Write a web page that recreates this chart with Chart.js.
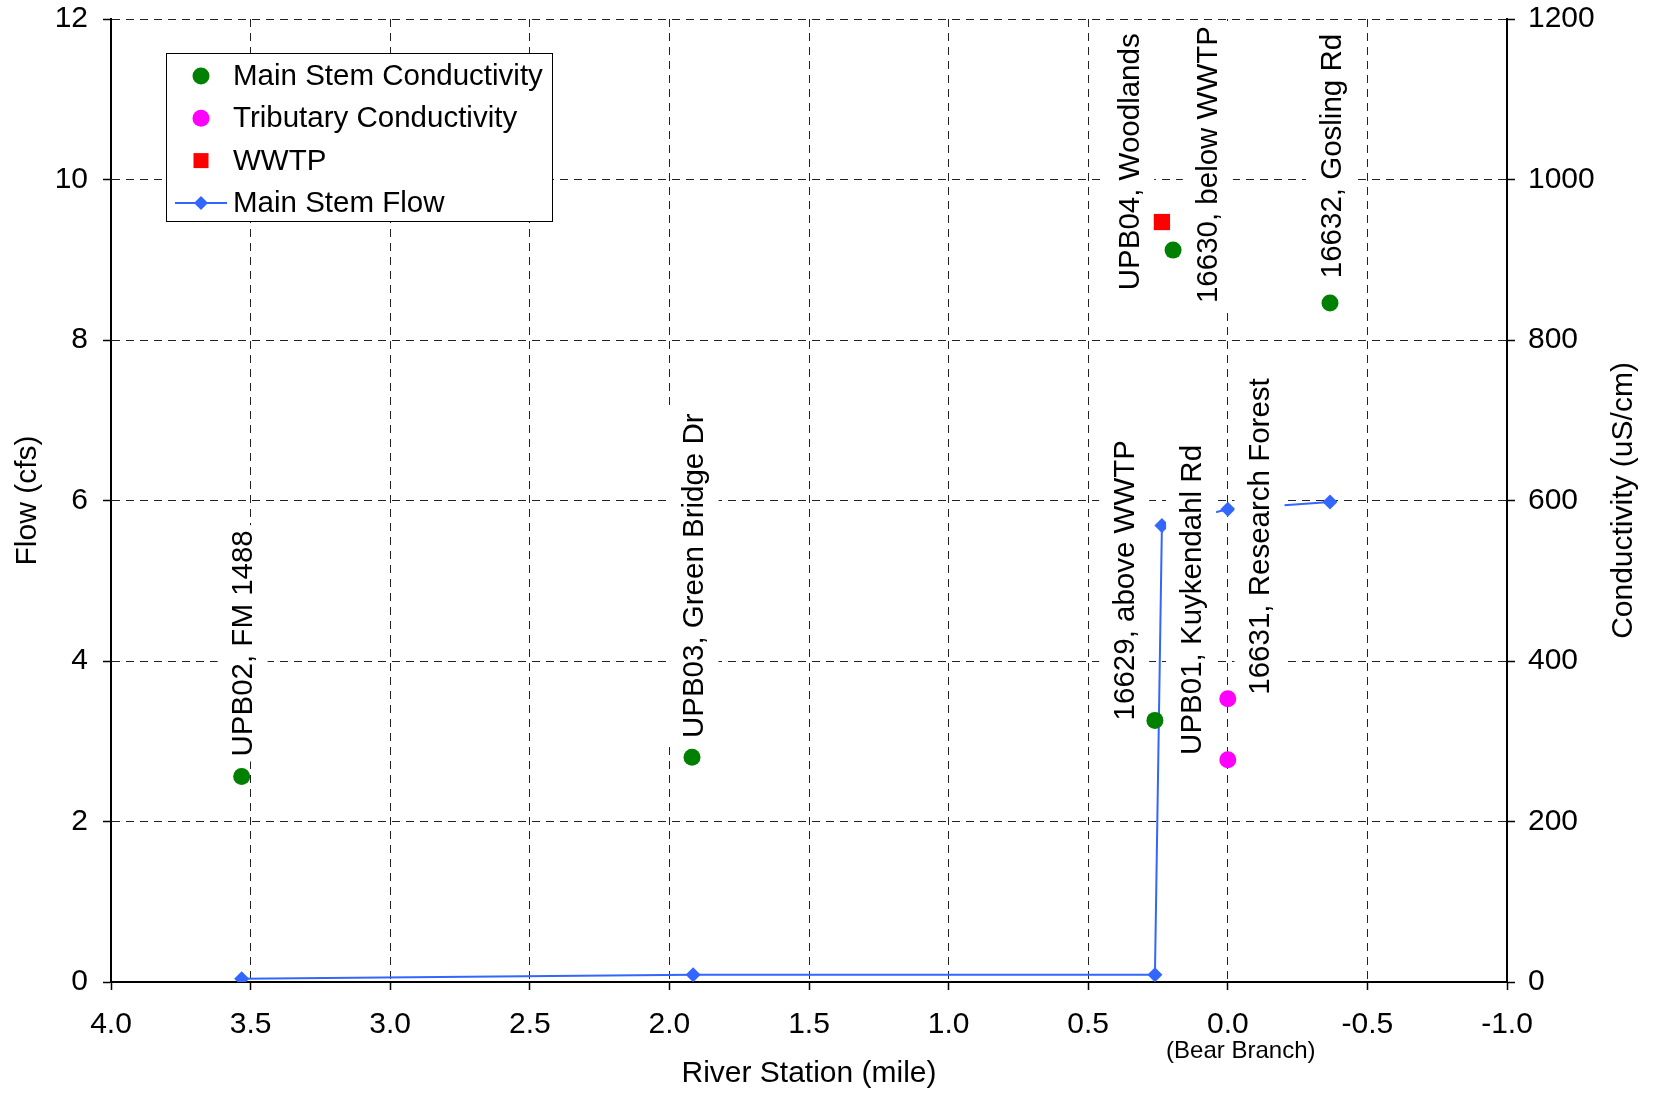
<!DOCTYPE html>
<html>
<head>
<meta charset="utf-8">
<title>Main stem flow and conductivity</title>
<script src="https://cdn.jsdelivr.net/npm/chart.js@4.4.1/dist/chart.umd.min.js"></script>
<style>
  html, body { margin: 0; padding: 0; background: #fff; }
  #wrap { width: 1654px; height: 1094px; }
</style>
</head>
<body>
<div id="wrap"><canvas id="flowChart" width="1654" height="1094"></canvas></div>
<script>
// River station (mile) vs conductivity (uS/cm) and flow (cfs)
const FONT = '"Liberation Sans", Arial, sans-serif';

const mainStemMiles = [3.532, 1.919, 0.261, 0.196, -0.366];
const mainStemCond = [256, 280, 326, 912, 846];

const tribMiles = [0.0, 0.0];
const tribCond = [353, 277];

const wwtpMiles = [0.236];
const wwtpCond = [947];

const flowMiles = [3.532, 1.915, 0.261, 0.236, 0.0, -0.366];
const flowCfs = [0.04, 0.09, 0.09, 5.69, 5.89, 5.98];

const xTickValues = [4.0, 3.5, 3.0, 2.5, 2.0, 1.5, 1.0, 0.5, 0.0, -0.5, -1.0];
const flowTickValues = [0, 2, 4, 6, 8, 10, 12];
const condTickValues = [0, 200, 400, 600, 800, 1000, 1200];

// station names, placed at river mile / flow value where the text starts
const siteLabels = ['UPB02, FM 1488', 'UPB03, Green Bridge Dr', '16629, above WWTP',
  'UPB01, Kuykendahl Rd', '16631, Research Forest', 'UPB04, Woodlands',
  '16630, below WWTP', '16632, Gosling Rd'];
const siteLabelMiles = [3.532, 1.917, 0.375, 0.135, -0.110, 0.357, 0.075, -0.366];
const siteLabelFlow = [2.81, 3.04, 3.26, 2.83, 3.58, 8.62, 8.46, 8.77];

const pts = (xs, ys) => xs.map((x, i) => ({ x: x, y: ys[i] }));
const setTicks = vals => scale => { scale.ticks = vals.map(v => ({ value: v })); };

function drawSiteLabels(chart) {
    const ctx = chart.ctx, xs = chart.scales.x, ys = chart.scales.y;
    ctx.save();
    ctx.font = '29.5px ' + FONT;
    siteLabels.forEach((txt, i) => {
        const px = xs.getPixelForValue(siteLabelMiles[i]);
        const py = ys.getPixelForValue(siteLabelFlow[i]);
        const w = ctx.measureText(txt).width;
        ctx.save();
        ctx.translate(px, py);
        ctx.rotate(-Math.PI / 2);
        ctx.fillStyle = '#fff';
        ctx.fillRect(-5, -24, w + 10, 50);
        ctx.fillStyle = '#000';
        ctx.textAlign = 'left';
        ctx.textBaseline = 'alphabetic';
        ctx.fillText(txt, 0, 10.6);
        ctx.restore();
    });
    ctx.restore();
}

function drawMarker(ctx, ds, x, y, withLine) {
    ctx.fillStyle = ds.backgroundColor;
    ctx.strokeStyle = ds.borderColor;
    if (withLine) {
        ctx.lineWidth = 2;
        ctx.beginPath();
        ctx.moveTo(x - 26, y);
        ctx.lineTo(x + 26, y);
        ctx.stroke();
    }
    ctx.beginPath();
    if (ds.pointStyle === 'rect') {
        ctx.rect(x - 7.5, y - 7.5, 15, 15);
    } else if (ds.pointStyle === 'rectRot') {
        ctx.moveTo(x, y - 7);
        ctx.lineTo(x + 7, y);
        ctx.lineTo(x, y + 7);
        ctx.lineTo(x - 7, y);
        ctx.closePath();
    } else {
        ctx.arc(x, y, 8.5, 0, Math.PI * 2);
    }
    ctx.fill();
}

function drawLegendBox(chart) {
    const ctx = chart.ctx;
    ctx.save();
    ctx.fillStyle = '#fff';
    ctx.fillRect(166.5, 53.5, 386, 168);
    ctx.strokeStyle = '#000';
    ctx.lineWidth = 1;
    ctx.strokeRect(166.5, 53.5, 386, 168);
    ctx.font = '29.5px ' + FONT;
    ctx.textBaseline = 'middle';
    chart.data.datasets.forEach((ds, i) => {
        const y = 76 + i * 42.3;
        drawMarker(ctx, ds, 201, y, ds.showLine);
        ctx.fillStyle = '#000';
        ctx.fillText(ds.label, 233, y + 1);
    });
    ctx.restore();
}

const overlay = {
    id: 'overlay',
    afterDatasetDraw(chart, args) {
        // boxes sit over the flow line but under the conductivity points
        if (chart.data.datasets[args.index].label === 'Main Stem Flow') drawSiteLabels(chart);
    },
    afterDraw(chart) {
        const ctx = chart.ctx, area = chart.chartArea;
        drawLegendBox(chart);

        ctx.save();
        ctx.fillStyle = '#000';
        ctx.font = '30px ' + FONT;
        ctx.textAlign = 'center';
        ctx.textBaseline = 'middle';
        ctx.translate(1624, (area.top + area.bottom) / 2);
        ctx.rotate(-Math.PI / 2);
        ctx.fillText('Conductivity (uS/cm)', 0, 0);
        ctx.restore();

        ctx.save();
        ctx.fillStyle = '#000';
        ctx.font = '24px ' + FONT;
        ctx.textAlign = 'center';
        ctx.textBaseline = 'middle';
        ctx.fillText('(Bear Branch)', chart.scales.x.getPixelForValue(0) + 13, 1051);
        ctx.restore();
    }
};

Chart.defaults.font.family = FONT;
Chart.defaults.font.size = 30;
Chart.defaults.color = '#000';

const gridDash = [8, 6];
const gridColor = '#222';

// keep the plot box where the reference has it
function fixWidth(w) {
    return s => { s.width = w; s.paddingTop = 0; s.paddingBottom = 0; };
}

new Chart(document.getElementById('flowChart'), {
    type: 'scatter',
    data: {
        datasets: [{
            label: 'Main Stem Conductivity',
            data: pts(mainStemMiles, mainStemCond),
            yAxisID: 'y2',
            pointStyle: 'circle',
            pointRadius: 8.5,
            backgroundColor: '#008000',
            borderColor: '#008000',
            borderWidth: 0,
            order: 1
        }, {
            label: 'Tributary Conductivity',
            data: pts(tribMiles, tribCond),
            yAxisID: 'y2',
            pointStyle: 'circle',
            pointRadius: 8.5,
            backgroundColor: '#ff00ff',
            borderColor: '#ff00ff',
            borderWidth: 0,
            order: 1
        }, {
            label: 'WWTP',
            data: pts(wwtpMiles, wwtpCond),
            yAxisID: 'y2',
            pointStyle: 'rect',
            pointRadius: 11.5,
            backgroundColor: '#ff0000',
            borderColor: '#ff0000',
            borderWidth: 0,
            order: 1
        }, {
            label: 'Main Stem Flow',
            data: pts(flowMiles, flowCfs),
            yAxisID: 'y',
            showLine: true,
            pointStyle: 'rectRot',
            pointRadius: 7.5,
            borderWidth: 2,
            pointBorderWidth: 0,
            backgroundColor: '#3366ff',
            borderColor: '#3366ff',
            order: 10
        }]
    },
    options: {
        responsive: false,
        devicePixelRatio: 1,
        animation: false,
        events: [],
        layout: { autoPadding: false, padding: { top: 19, left: 0, right: 0, bottom: 0 } },
        plugins: {
            legend: { display: false },
            tooltip: { enabled: false }
        },
        scales: {
            x: {
                type: 'linear',
                reverse: true,
                min: -1,
                max: 4,
                afterBuildTicks: setTicks(xTickValues),
                afterFit: s => { s.height = 112; s.paddingLeft = 0; s.paddingRight = 0; },
                ticks: { padding: 17, callback: v => v.toFixed(1) },
                grid: { color: gridColor, lineWidth: 1, tickLength: 8, tickColor: '#000', tickWidth: 1.5 },
                border: { color: '#000', width: 2, dash: gridDash },
                title: { display: true, text: 'River Station (mile)', padding: { top: 0, bottom: 2 } }
            },
            y: {
                position: 'left',
                min: 0,
                max: 12,
                afterBuildTicks: setTicks(flowTickValues),
                afterFit: fixWidth(111),
                ticks: { padding: 15, callback: v => String(v) },
                grid: { color: gridColor, lineWidth: 1, tickLength: 8, tickColor: '#000', tickWidth: 1.5 },
                border: { color: '#000', width: 2, dash: gridDash },
                title: { display: true, text: 'Flow (cfs)', padding: { top: 10, bottom: 0 } }
            },
            y2: {
                position: 'right',
                min: 0,
                max: 1200,
                afterBuildTicks: setTicks(condTickValues),
                afterFit: fixWidth(147),
                ticks: { padding: 13, callback: v => String(v) },
                grid: { drawOnChartArea: false, tickLength: 8, tickColor: '#000', tickWidth: 1.5 },
                border: { color: '#000', width: 2 }
            }
        }
    },
    plugins: [overlay]
});
</script>
</body>
</html>
